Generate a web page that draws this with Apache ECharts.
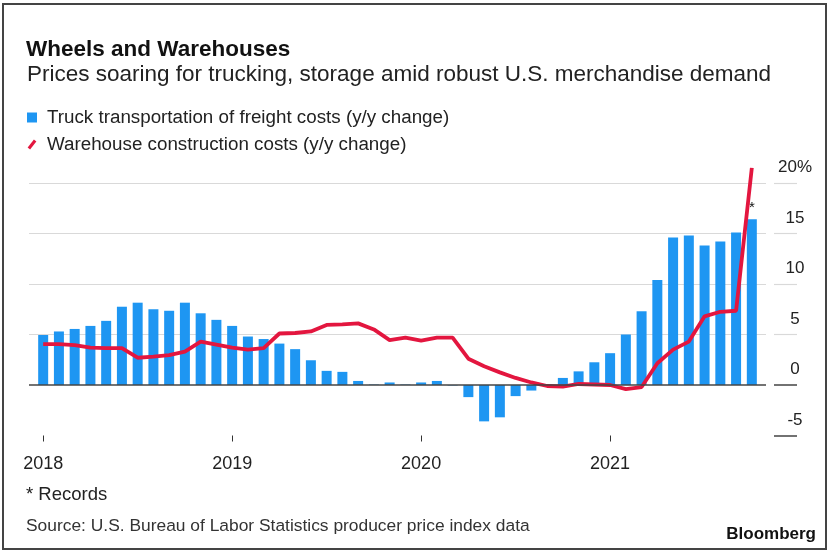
<!DOCTYPE html>
<html>
<head>
<meta charset="utf-8">
<script src="https://cdn.jsdelivr.net/npm/echarts@6/dist/echarts.min.js"></script>
<style>
  html, body { margin: 0; padding: 0; background: #fff; }
  #wrap { position: relative; width: 835px; height: 552px; }
  #chart { position: absolute; left: 0; top: 0; width: 835px; height: 552px; }
  #frame { position: absolute; left: 2px; top: 3px; width: 821px; height: 543px; border: 2px solid #444; pointer-events: none; }
</style>
</head>
<body>
<div id="wrap">
  <div id="chart"></div>
  <div id="frame"></div>
</div>
<script>
// monthly y/y change, Jan 2018 .. Oct 2021
const months = [
  '2018-01', '2018-02', '2018-03', '2018-04', '2018-05', '2018-06', '2018-07', '2018-08', '2018-09', '2018-10', '2018-11', '2018-12',
  '2019-01', '2019-02', '2019-03', '2019-04', '2019-05', '2019-06', '2019-07', '2019-08', '2019-09', '2019-10', '2019-11', '2019-12',
  '2020-01', '2020-02', '2020-03', '2020-04', '2020-05', '2020-06', '2020-07', '2020-08', '2020-09', '2020-10', '2020-11', '2020-12',
  '2021-01', '2021-02', '2021-03', '2021-04', '2021-05', '2021-06', '2021-07', '2021-08', '2021-09', '2021-10'
]
const truckCosts = [
  4.95, 5.3, 5.55, 5.85, 6.35, 7.75, 8.15, 7.5, 7.35, 8.15, 7.1, 6.45,
  5.85, 4.8, 4.55, 4.1, 3.55, 2.45, 1.4, 1.3, 0.4, 0.05, 0.25, 0.05,
  0.25, 0.4, -0.05, -1.2, -3.6, -3.2, -1.1, -0.55, 0.05, 0.7, 1.35, 2.25,
  3.15, 5.0, 7.3, 10.4, 14.6, 14.8, 13.8, 14.2, 15.1, 16.4
]
const warehouseCosts = [
  4.05, 4.05, 3.95, 3.7, 3.65, 3.65, 2.7, 2.8, 2.95, 3.3, 4.3, 4.0,
  3.7, 3.5, 3.65, 5.1, 5.15, 5.3, 5.95, 6.0, 6.1, 5.5, 4.45, 4.7,
  4.4, 4.7, 4.7, 2.6, 1.85, 1.25, 0.7, 0.25, -0.1, -0.15, 0.1, 0.05,
  0.0, -0.4, -0.2, 2.15, 3.5, 4.3, 6.8, 7.25, 7.35, 21.5
]
const yearTicks = ['2018-01', '2019-01', '2020-01', '2021-01']
const recordMonth = '2021-10'

const tickIdx = yearTicks.map(m => months.indexOf(m))
const font = 'Liberation Sans, Arial, Helvetica, sans-serif'

const chart = echarts.init(document.getElementById('chart'), null, { renderer: 'canvas' })

chart.setOption({
  backgroundColor: '#fff',
  animation: false,
  textStyle: { fontFamily: font },
  title: [
    { text: 'Wheels and Warehouses', left: 21, top: 34, textStyle: { fontSize: 22.5, fontWeight: 'bold', color: '#111', lineHeight: 22 } },
    { text: 'Prices soaring for trucking, storage amid robust U.S. merchandise demand', left: 22, top: 59, textStyle: { fontSize: 22.5, fontWeight: 'normal', color: '#222', lineHeight: 22 } },
    { text: '* Records', left: 21, top: 481, textStyle: { fontSize: 18.5, fontWeight: 'normal', color: '#222', lineHeight: 18 } },
    { text: 'Source: U.S. Bureau of Labor Statistics producer price index data', left: 21, top: 513, textStyle: { fontSize: 17.4, fontWeight: 'normal', color: '#333', lineHeight: 17 } },
    { text: 'Bloomberg', right: 14, top: 521, textStyle: { fontSize: 17, fontWeight: 'bold', color: '#111', lineHeight: 17 } }
  ],
  legend: {
    orient: 'vertical',
    left: 22,
    top: 103,
    itemWidth: 10,
    itemHeight: 10,
    itemGap: 8,
    selectedMode: false,
    textStyle: { fontSize: 18.8, color: '#222', lineHeight: 19, padding: [0, 0, 0, 5] },
    data: [
      { name: 'Truck transportation of freight costs (y/y change)', icon: 'rect' },
      { name: 'Warehouse construction costs (y/y change)', icon: 'path://M0,9.2L7.2,0L10,2.3L2.8,11.5Z' }
    ]
  },
  grid: { left: 29, right: 69, top: 183, bottom: 116.5, containLabel: false },
  xAxis: {
    type: 'value',
    min: -0.9,
    max: months.length - 0.1,
    splitLine: { show: false },
    axisLine: { show: false, onZero: false },
    axisTick: { show: true, customValues: tickIdx, length: 6, lineStyle: { color: '#333', width: 1 } },
    axisLabel: {
      customValues: tickIdx,
      margin: 20,
      fontSize: 18,
      color: '#222',
      formatter: v => months[Math.round(v)].slice(0, 4)
    }
  },
  yAxis: [
    {
      type: 'value',
      position: 'right',
      offset: 8,
      min: -5,
      max: 20,
      interval: 5,
      axisLine: { show: false, onZero: false },
      splitLine: { show: false },
      axisTick: { show: true, customValues: [-5, 0], length: 23, lineStyle: { color: '#444', width: 1.5 } },
      axisLabel: {
        margin: 21,
        align: 'center',
        verticalAlign: 'bottom',
        padding: [0, 0, 7, 0],
        fontSize: 17,
        color: '#222',
        formatter: v => (v === 20 ? '20%' : String(v))
      }
    },
    {
      type: 'value',
      position: 'right',
      offset: 8,
      min: -5,
      max: 20,
      interval: 5,
      axisLine: { show: false, onZero: false },
      splitLine: { show: true, lineStyle: { color: '#d9d9d9', width: 1.2 } },
      axisTick: { show: true, customValues: [5, 10, 15, 20], length: 23, lineStyle: { color: '#d9d9d9', width: 1.2 } },
      axisLabel: { show: false }
    }
  ],
  series: [
    {
      name: 'Truck transportation of freight costs (y/y change)',
      type: 'bar',
      barWidth: 10,
      color: '#1e96f2',
      data: truckCosts.map((v, i) => {
        const item = { value: [i, v] }
        if (months[i] === recordMonth) {
          item.label = { show: true, position: 'top', distance: 4, formatter: '*', fontSize: 15, color: '#111' }
        }
        return item
      }),
      markLine: {
        silent: true,
        symbol: 'none',
        label: { show: false },
        lineStyle: { color: '#444', width: 1.6, type: 'solid' },
        data: [{ yAxis: 0 }]
      },
      z: 2
    },
    {
      name: 'Warehouse construction costs (y/y change)',
      type: 'line',
      color: '#e3163f',
      symbol: 'none',
      clip: false,
      lineStyle: { width: 3.8, color: '#e3163f' },
      data: warehouseCosts.map((v, i) => [i, v]),
      z: 3
    }
  ]
})
</script>
</body>
</html>
